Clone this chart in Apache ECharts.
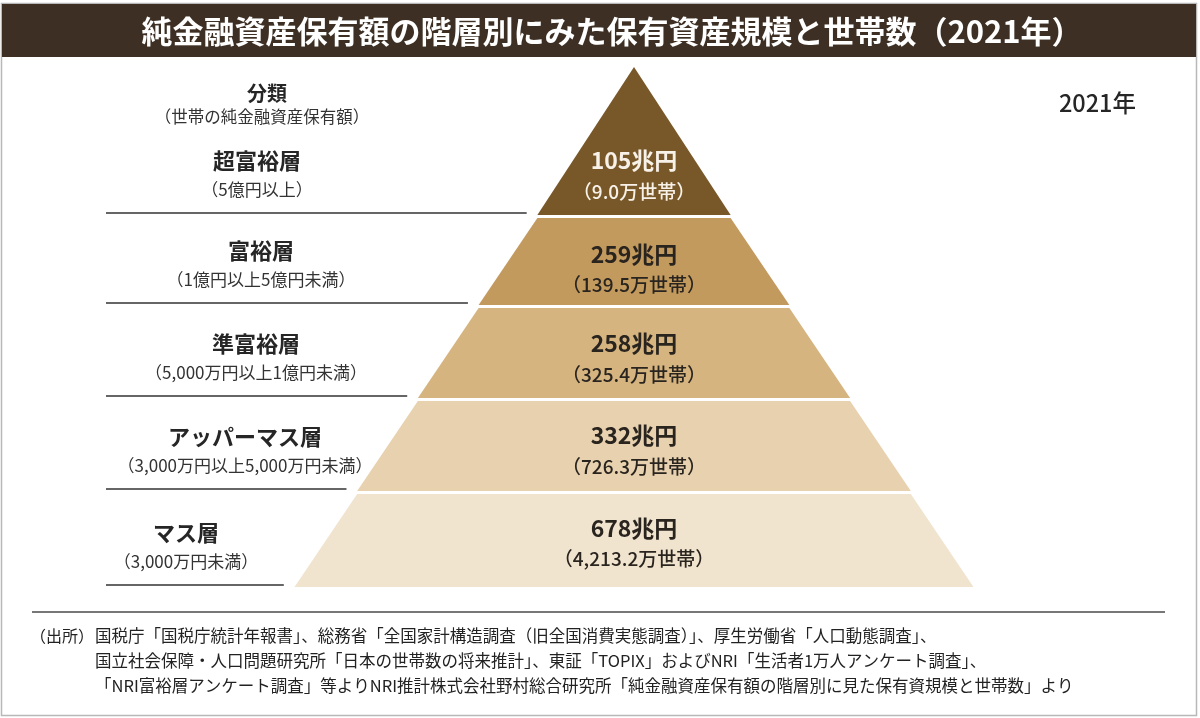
<!DOCTYPE html>
<html>
<head>
<meta charset="utf-8">
<title>純金融資産保有額の階層別にみた保有資産規模と世帯数（2021年）</title>
<script src="https://cdn.jsdelivr.net/npm/echarts@6/dist/echarts.min.js"></script>
<style>
  html, body { margin: 0; padding: 0; background: #fff; }
  #main { width: 1200px; height: 718px; }
</style>
</head>
<body>
<div id="main"></div>
<script>
// 純金融資産保有額の階層別（2021年）
const tiers = ['超富裕層', '富裕層', '準富裕層', 'アッパーマス層', 'マス層']
const ranges = ['5億円以上', '1億円以上5億円未満', '5,000万円以上1億円未満', '3,000万円以上5,000万円未満', '3,000万円未満']
const assets = [105, 259, 258, 332, 678]              // 兆円
const households = [9.0, 139.5, 325.4, 726.3, 4213.2] // 万世帯
const sources = [
  '国税庁「国税庁統計年報書」、総務省「全国家計構造調査（旧全国消費実態調査）」、厚生労働省「人口動態調査」、',
  '国立社会保障・人口問題研究所「日本の世帯数の将来推計」、東証「TOPIX」およびNRI「生活者1万人アンケート調査」、',
  '「NRI富裕層アンケート調査」等よりNRI推計株式会社野村総合研究所「純金融資産保有額の階層別に見た保有資規模と世帯数」より'
]

// pyramid layout / style
const apex = [634, 67]
const baseWidth = 679
const layerHeights = [148, 87, 90, 90, 93]
const layerGap = 3
const layerColors = ['#785829', '#c29a5e', '#d5b480', '#e7d1ae', '#f1e4cf']
const labelColors = ['#f7f1e8', '#2a241f', '#2a241f', '#2a241f', '#2a241f']
const labelShift = [35, 8, 6, 5, 3]
const sideCenters = [257, 261, 256, 245, 186]
const font = '"Noto Sans CJK JP", "Noto Sans", sans-serif'

// depth of each layer's bottom edge, measured from the apex
let depth = []
let acc = 0
layerHeights.forEach((h, i) => {
  acc += h + (i ? layerGap : 0)
  depth.push(acc)
})
const total = acc
const edgeX = (y) => apex[0] - (y - apex[1]) * baseWidth / 2 / total

const fmtHouse = (v) => v.toLocaleString('en-US', {minimumFractionDigits: 1, maximumFractionDigits: 1})

function text (str, x, y, size, weight, color, align) {
  return {
    type: 'text',
    silent: true,
    style: {
      text: str, x: x, y: y,
      fontSize: size, fontWeight: weight, fontFamily: font,
      fill: color,
      align: align || 'center', verticalAlign: 'middle',
      textAlign: align || 'center', textVerticalAlign: 'middle'
    }
  }
}

let graphics = [
  {type: 'rect', silent: true, shape: {x: 1.5, y: 3.5, width: 1195, height: 712}, style: {fill: 'none', stroke: '#b8b8b8', lineWidth: 1.5}},
  {type: 'rect', silent: true, shape: {x: 2, y: 4, width: 1194, height: 53}, style: {fill: '#3d2f24'}},
  text('純金融資産保有額の階層別にみた保有資産規模と世帯数（2021年）', 612, 31, 31, 'bold', '#ffffff'),
  text('2021年', 1136, 103, 23.5, 500, '#262626', 'right'),
  text('分類', 267, 93, 20, 'bold', '#262626'),
  text('（世帯の純金融資産保有額）', 262, 117, 16.5, 'normal', '#333333')
]

tiers.forEach((name, i) => {
  let bottom = apex[1] + depth[i]
  let lineY = bottom - 2
  graphics.push(text(name, sideCenters[i], bottom - 54, 22, 'bold', '#262626'))
  graphics.push(text('（' + ranges[i] + '）', sideCenters[i], bottom - 25, 17, 'normal', '#333333'))
  graphics.push({
    type: 'line',
    silent: true,
    shape: {x1: 106, y1: lineY, x2: edgeX(lineY) - 12, y2: lineY},
    style: {stroke: '#333333', lineWidth: 1.5}
  })
})

graphics.push({
  type: 'line',
  silent: true,
  shape: {x1: 32, y1: 612, x2: 1165, y2: 612},
  style: {stroke: '#4a4a4a', lineWidth: 1.5}
})
graphics.push(text('（出所）', 30, 636, 16, 'normal', '#222222', 'left'))
sources.forEach((line, i) => {
  graphics.push(text(line, 95, 636 + i * 25, 16.5, 'normal', '#222222', 'left'))
})

const option = {
  animation: false,
  backgroundColor: '#ffffff',
  textStyle: {fontFamily: font},
  graphic: {elements: graphics},
  series: [{
    type: 'funnel',
    sort: 'ascending',
    left: apex[0] - baseWidth / 2,
    top: apex[1],
    width: baseWidth,
    height: total,
    min: 0,
    max: total,
    minSize: 0,
    maxSize: baseWidth,
    gap: layerGap,
    silent: true,
    itemStyle: {borderWidth: 0},
    labelLine: {show: false},
    label: {
      show: true,
      position: 'inside',
      fontFamily: font,
      formatter: (p) => `{a|${assets[p.dataIndex]}兆円}\n{b|（${fmtHouse(households[p.dataIndex])}万世帯）}`,
      rich: {
        a: {fontSize: 23, fontWeight: 'bold', lineHeight: 31, fontFamily: font},
        b: {fontSize: 19, fontWeight: 500, lineHeight: 31, fontFamily: font}
      }
    },
    emphasis: {disabled: true},
    data: tiers.map((name, i) => ({
      name: name,
      value: depth[i],
      itemStyle: {color: layerColors[i], height: layerHeights[i]},
      // push the text block down inside the layer
      label: {color: labelColors[i], padding: [labelShift[i] * 2, 0, 0, 0]}
    }))
  }]
}

let chart = echarts.init(document.getElementById('main'))
chart.setOption(option)
</script>
</body>
</html>
